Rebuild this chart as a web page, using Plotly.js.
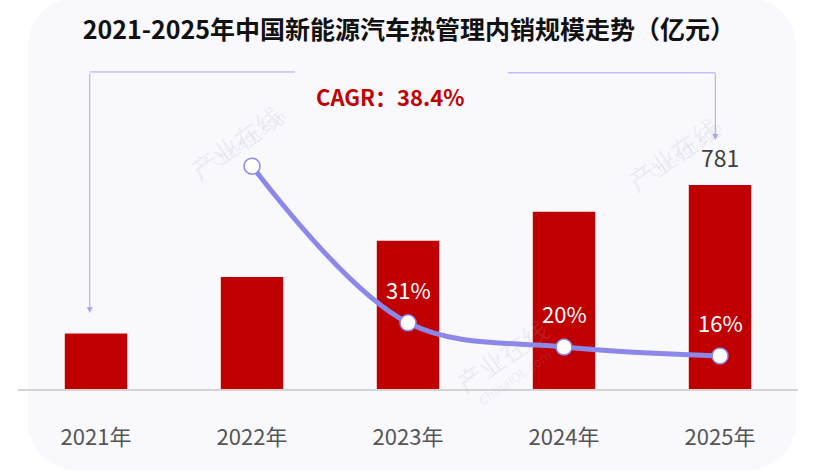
<!DOCTYPE html>
<html><head><meta charset="utf-8">
<script src="https://cdn.plot.ly/plotly-3.0.1.min.js"></script>
<style>
html,body{margin:0;padding:0;background:#fff;width:818px;height:473px;overflow:hidden;}
#panel{position:absolute;left:28px;top:-2px;width:768px;height:472px;background:#F8F8FD;border-radius:48px;}
#chart{position:absolute;left:0;top:0;width:818px;height:473px;}
</style></head>
<body><div id="panel"></div><div id="chart"></div>
<script>
const categories = ['2021年','2022年','2023年','2024年','2025年'];
const salesValues = [212, 429, 567, 678, 781];
const growthRates = [null, 102, 31, 20, 16];
const growthLabels = ['', '', '31%', '20%', '16%'];
const valueLabels = ['', '', '', '', '781'];
const cagrText = 'CAGR：38.4%';
const titleText = '2021-2025年中国新能源汽车热管理内销规模走势（亿元）';

const FONT = '"Noto Sans CJK SC", "Noto Sans", sans-serif';
const RED = '#C00000';
const PURPLE = '#8C88EA';
const LAV = '#A9A5F2';

const bars = {
  type:'bar', x:categories, y:salesValues, marker:{color:RED}, hoverinfo:'skip', showlegend:false
};
const line = {
  type:'scatter', mode:'lines+markers', x:categories, y:growthRates, yaxis:'y2',
  line:{color:PURPLE, width:5, shape:'spline', smoothing:1}, connectgaps:false,
  marker:{size:16, color:'#fff', line:{color:PURPLE, width:1.5}}, hoverinfo:'skip', showlegend:false
};

const annotations = [];
growthLabels.forEach((t,i)=>{ if(t) annotations.push({x:categories[i], y:growthRates[i], xref:'x', yref:'y2',
  text:t, showarrow:false, yshift:34, font:{family:FONT, size:22, color:'#fff'}}); });
valueLabels.forEach((t,i)=>{ if(t) annotations.push({x:categories[i], y:salesValues[i], xref:'x', yref:'y',
  text:t, showarrow:false, yshift:28, font:{family:FONT, size:23, color:'#404040'}}); });
annotations.push({x:2, y:1.075, xref:'x', yref:'paper', text:'<b>'+cagrText+'</b>', showarrow:false,
  xshift:-18, font:{family:FONT, size:22, color:RED}});
// bracket arrows
annotations.push({x:-0.04, y:0.263, xref:'x', yref:'paper', text:'', showarrow:true, ax:0, ay:-241,
  arrowhead:2, arrowsize:1.2, arrowwidth:1, arrowcolor:LAV});
annotations.push({x:3.97, y:0.862, xref:'x', yref:'paper', text:'', showarrow:true, ax:0, ay:-68,
  arrowhead:2, arrowsize:1.2, arrowwidth:1, arrowcolor:LAV});
// watermarks
const wm = [[0.9,1.02],[3.7,0.98],[2.6,-0.05]];
wm.forEach(p=>{
  annotations.push({x:p[0], y:p[1], xref:'x', yref:'paper', text:'产业在线', showarrow:false, textangle:-35,
    font:{family:FONT, size:26, color:'rgba(170,170,185,0.16)'}});
  annotations.push({x:p[0]+0.08, y:p[1]-0.03, xref:'x', yref:'paper', text:'ChinaIOL.com', showarrow:false, textangle:-35,
    font:{family:FONT, size:13, color:'rgba(170,170,185,0.16)'}});
});

const shapes = [
  {type:'line', xref:'x', yref:'paper', x0:-0.04, x1:1.276, y0:1.097, y1:1.097, line:{color:LAV, width:1}},
  {type:'line', xref:'x', yref:'paper', x0:2.64, x1:3.97, y0:1.094, y1:1.094, line:{color:LAV, width:1}}
];

const layout = {
  width:818, height:473,
  margin:{l:18, r:20, t:100, b:84},
  paper_bgcolor:'rgba(0,0,0,0)', plot_bgcolor:'rgba(0,0,0,0)',
  title:{text:'<b>'+titleText+'</b>', x:0.5, xanchor:'center', y:0.935, yanchor:'middle',
    font:{family:FONT, size:25, color:'#111'}},
  bargap:0.6,
  xaxis:{type:'category', showline:true, linecolor:'#D4D4D4', linewidth:2, showgrid:false, zeroline:false,
    ticks:'', ticklabelstandoff:28, tickfont:{family:FONT, size:22, color:'#555'}},
  yaxis:{range:[0,1106], visible:false, showgrid:false, zeroline:false, fixedrange:true},
  yaxis2:{range:[1,132], overlaying:'y', visible:false, showgrid:false, zeroline:false},
  annotations:annotations, shapes:shapes
};
Plotly.newPlot('chart', [bars, line], layout, {staticPlot:true, displayModeBar:false});
</script></body></html>
